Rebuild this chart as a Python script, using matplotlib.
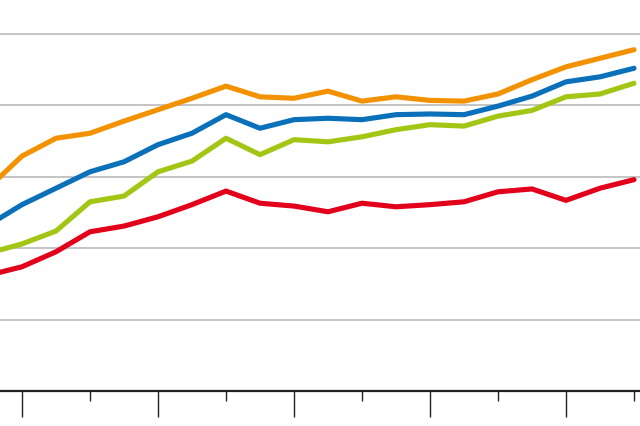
import numpy as np
import matplotlib
matplotlib.use("Agg")
import matplotlib.pyplot as plt
from matplotlib.ticker import MultipleLocator

years = list(range(1999, 2019))

orange = [2.84, 3.29, 3.54, 3.61, 3.78, 3.94, 4.10, 4.27, 4.12, 4.10,
          4.20, 4.06, 4.12, 4.07, 4.06, 4.16, 4.36, 4.54, 4.66, 4.78]
blue = [2.32, 2.61, 2.84, 3.07, 3.21, 3.45, 3.61, 3.87, 3.68, 3.80,
        3.82, 3.80, 3.87, 3.88, 3.87, 3.99, 4.13, 4.33, 4.40, 4.52]
green = [1.93, 2.06, 2.24, 2.65, 2.73, 3.07, 3.22, 3.54, 3.31, 3.52,
         3.49, 3.56, 3.66, 3.73, 3.71, 3.85, 3.93, 4.12, 4.16, 4.31]
red = [1.62, 1.74, 1.95, 2.23, 2.31, 2.44, 2.61, 2.80, 2.63, 2.59,
       2.51, 2.63, 2.58, 2.61, 2.65, 2.79, 2.83, 2.67, 2.84, 2.96]

series = [
    (orange, "#f39200"),
    (blue, "#0a70b9"),
    (green, "#a3c614"),
    (red, "#e2001a"),
]


def main():
    fig = plt.figure(figsize=(6.4, 4.27), dpi=100)
    ax = fig.add_axes([0, 35 / 427, 1, 392 / 427])

    for vals, col in series:
        ax.plot(years, vals, color=col, lw=3.7,
                solid_capstyle="round", solid_joinstyle="round", zorder=3)

    ax.set_xlim(2000 - 22 / 34, 2000 + 618 / 34)
    ax.set_ylim(0, 392 / 71.4)

    ax.set_yticks([1, 2, 3, 4, 5])
    ax.yaxis.grid(True, color="#c4c4c4", lw=1.4)
    ax.tick_params(axis="y", left=False, labelleft=False)

    # labels sit mostly below the bottom edge, as in the reference crop
    ax.xaxis.set_major_locator(MultipleLocator(4))
    ax.xaxis.set_minor_locator(MultipleLocator(2))
    ax.tick_params(axis="x", which="major", length=18.5, width=1.0,
                   color="#222222", labelsize=11, labelcolor="#555555", pad=6)
    ax.tick_params(axis="x", which="minor", length=7, width=1.0,
                   color="#222222")

    for s in ["left", "right", "top"]:
        ax.spines[s].set_visible(False)
    ax.spines["bottom"].set_linewidth(1.6)
    ax.spines["bottom"].set_color("#222222")

    fig.savefig("out.png", dpi=100)


if __name__ == '__main__':
    main()
